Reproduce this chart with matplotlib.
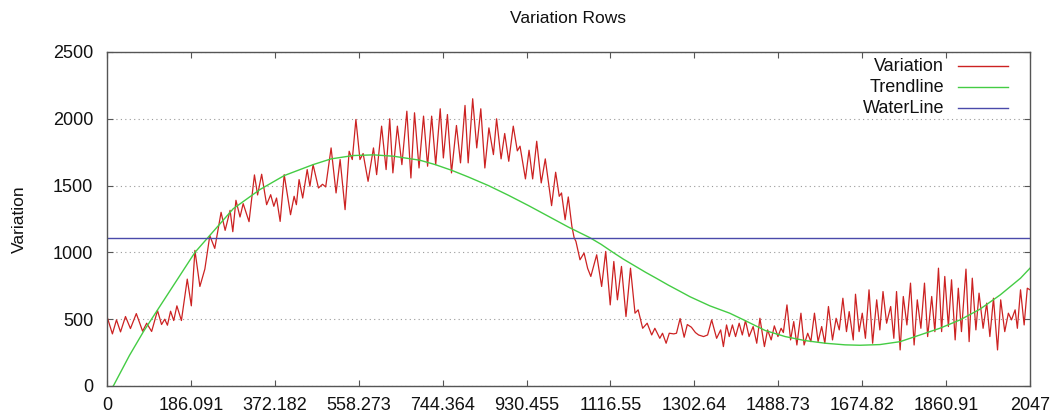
import numpy as np
import matplotlib
matplotlib.use("Agg")
import matplotlib.pyplot as plt

plt.rcParams['font.family'] = ['Liberation Sans', 'DejaVu Sans']

# row index / variation value (turning points of the signal)
var_x = [0, 12, 21, 30, 41, 52, 65, 79, 88, 99, 112, 121, 128, 134, 141, 148,
         155, 165, 178, 187, 195, 206, 217, 228, 239, 253, 262, 273, 279, 286,
         295, 302, 315, 327, 334, 343, 354, 363, 370, 376, 384, 393, 407, 415,
         420, 426, 434, 444, 450, 457, 469, 478, 485, 497, 508, 517, 528, 537,
         544, 552, 561, 568, 579, 591, 598, 609, 619, 627, 634, 644, 654, 665,
         674, 682, 692, 702, 711, 720, 729, 739, 746, 755, 764, 775, 784, 794,
         801, 811, 820, 829, 838, 847, 857, 864, 874, 882, 891, 901, 910, 916,
         928, 936, 944, 953, 963, 972, 986, 995, 1003, 1008, 1016, 1023, 1031,
         1036, 1040, 1049, 1058, 1066, 1073, 1086, 1097, 1106, 1116, 1124, 1132,
         1141, 1151, 1161, 1171, 1178, 1188, 1198, 1208, 1215, 1226, 1232, 1240,
         1247, 1257, 1263, 1271, 1280, 1287, 1296, 1305, 1312, 1323, 1332, 1341,
         1352, 1361, 1367, 1374, 1380, 1387, 1394, 1402, 1409, 1416, 1424, 1433,
         1441, 1448, 1458, 1465, 1473, 1480, 1488, 1495, 1500, 1508, 1516, 1523,
         1530, 1539, 1546, 1554, 1561, 1569, 1577, 1585, 1592, 1600, 1609, 1617,
         1624, 1632, 1640, 1646, 1655, 1660, 1668, 1675, 1682, 1690, 1698, 1707,
         1714, 1721, 1729, 1738, 1745, 1751, 1759, 1766, 1774, 1782, 1790, 1797,
         1805, 1813, 1820, 1829, 1836, 1844, 1851, 1858, 1866, 1873, 1881, 1888,
         1895, 1905, 1912, 1919, 1927, 1934, 1943, 1951, 1958, 1966, 1975, 1982,
         1991, 1999, 2006, 2014, 2019, 2026, 2034, 2041, 2047]
var_y = [520, 390, 495, 405, 520, 430, 542, 410, 470, 408, 565, 460, 500, 455, 560, 490,
         600, 490, 800, 600, 1015, 745, 875, 1125, 1030, 1300, 1165, 1315, 1155, 1390,
         1265, 1365, 1230, 1580, 1430, 1585, 1357, 1432, 1345, 1407, 1232, 1582, 1282, 1420,
         1357, 1545, 1407, 1620, 1495, 1657, 1482, 1510, 1490, 1782, 1445, 1695, 1320, 1757,
         1695, 1995, 1695, 1740, 1532, 1782, 1582, 1945, 1620, 2000, 1595, 1945, 1657, 2057,
         1557, 2045, 1632, 2020, 1645, 2020, 1657, 2075, 1707, 2032, 1595, 1950, 1670, 2100,
         1670, 2150, 1782, 2075, 1632, 1932, 1732, 2000, 1700, 1890, 1682, 1945, 1760, 1795,
         1550, 1765, 1550, 1832, 1520, 1700, 1350, 1600, 1420, 1445, 1245, 1415, 1195,
         1110, 1082, 945, 995, 880, 820, 982, 745, 1007, 607, 932, 645,
         895, 520, 882, 545, 570, 432, 470, 382, 432, 357, 395, 320,
         395, 390, 395, 505, 365, 460, 440, 400, 382, 370, 382, 495,
         357, 420, 295, 457, 370, 457, 370, 470, 382, 490, 370, 445,
         320, 507, 295, 420, 345, 450, 370, 432, 400, 607, 345, 482,
         307, 545, 307, 395, 332, 545, 332, 445, 320, 595, 345, 507,
         420, 657, 407, 557, 345, 687, 407, 545, 357, 720, 320, 645,
         420, 707, 470, 595, 357, 707, 270, 670, 457, 770, 307, 645,
         432, 770, 370, 670, 407, 882, 407, 820, 445, 795, 345, 732,
         407, 875, 332, 807, 420, 695, 432, 620, 370, 657, 270, 645,
         407, 545, 495, 570, 432, 720, 457, 732, 720]

# fitted trend
trend_x = [0, 14, 50, 81, 132, 195, 229, 280, 339, 393, 457, 497, 546, 591, 635,
           694, 728, 764, 801, 846, 890, 935, 979, 1023, 1047, 1071, 1096, 1120,
           1145, 1170, 1195, 1219, 1245, 1270, 1293, 1337, 1381, 1415, 1460, 1504,
           1548, 1593, 1637, 1670, 1714, 1759, 1803, 1847, 1892, 1936, 1981, 2026,
           2047]
trend_y = [-50, 0, 230, 408, 673, 1000, 1131, 1327, 1470, 1575, 1657, 1700, 1725, 1730, 1720,
           1690, 1657, 1615, 1565, 1500, 1428, 1350, 1270, 1190, 1150, 1110, 1060, 1005,
           950, 900, 850, 805, 755, 710, 668, 600, 545, 490, 415, 370,
           340, 320, 308, 305, 310, 332, 382, 432, 495, 575, 682, 807,
           882]

waterline = 1110
x_max = 2047
xtick_labels = ['0', '186.091', '372.182', '558.273', '744.364', '930.455',
                '1116.55', '1302.64', '1488.73', '1674.82', '1860.91', '2047']

fig = plt.figure(figsize=(10.52, 4.17), dpi=100)
ax = fig.add_axes([107/1052, 1-386/417, 923/1052, 334/417])

ax.plot(var_x, var_y, color='#cc2222', lw=0.9)
ax.plot(trend_x, trend_y, color='#44cc44', lw=1.0)
ax.axhline(waterline, color='#4a4aaa', lw=1.0)

ax.set_xlim(0, x_max)
ax.set_ylim(0, 2500)
ax.set_xticks(np.linspace(0, x_max, 12))
ax.set_xticklabels(xtick_labels)
ax.set_yticks([0, 500, 1000, 1500, 2000, 2500])

edge = '#555555'
for s in ax.spines.values():
    s.set_color(edge)
    s.set_linewidth(1.0)
ax.tick_params(axis='both', direction='in', length=4.5, width=0.8, color=edge,
               top=True, right=True, labelsize=13, labelcolor='#111111')
ax.tick_params(axis='x', pad=8)
ax.tick_params(axis='y', pad=10)
ax.yaxis.grid(True, linestyle=(0, (1, 3)), color='#999999', lw=0.8)

ax.set_title('Variation Rows', fontsize=12.5, pad=21, color='#111111')
fig.text(19/1052, 1-219/417, 'Variation', rotation=90, ha='center', va='center',
         fontsize=12.5, color='#111111')

# gnuplot-style key: label right-aligned, sample to the right
key = [('Variation', '#cc2222'), ('Trendline', '#44cc44'), ('WaterLine', '#4a4aaa')]
for i, (lab, col) in enumerate(key):
    yy = 0.958 - i * 0.063
    ax.text(0.907, yy, lab, transform=ax.transAxes, ha='right', va='center',
            fontsize=13, color='#111111')
    ax.plot([0.922, 0.976], [yy, yy], transform=ax.transAxes, color=col, lw=1.0)

fig.savefig('out.png', dpi=100)
